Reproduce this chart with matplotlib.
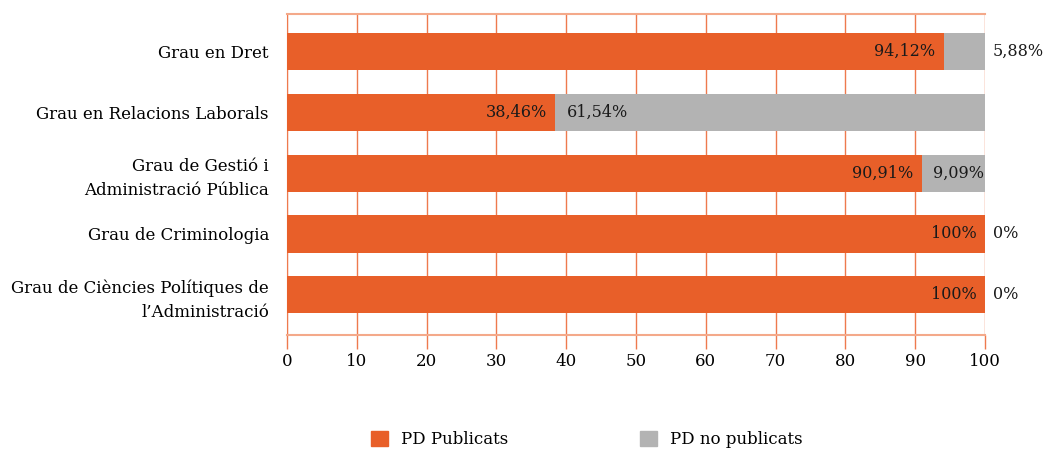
import matplotlib
matplotlib.use("Agg")
import matplotlib.pyplot as plt
from matplotlib.patches import Patch

categories = ["Grau en Dret", "Grau en Relacions Laborals",
              "Grau de Gestió i\nAdministració Pública", "Grau de Criminologia",
              "Grau de Ciències Polítiques de\nl’Administració"]
publicats = [94.12, 38.46, 90.91, 100, 100]
no_publicats = [5.88, 61.54, 9.09, 0, 0]

orange = "#E85F29"
grey = "#B3B3B3"
grid_c = "#EE7A4E"

plt.rcParams['font.family'] = ['DejaVu Serif']
plt.rcParams['font.size'] = 12

def fmt(v):
    s = ("%.2f" % v).replace(".", ",")
    if s.endswith(",00"):
        s = s[:-3]
    return s + "%"

fig = plt.figure(figsize=(10.43, 4.53), dpi=100)
ax = fig.add_axes([0.2752, 0.2605, 0.6692, 0.7085])

y = list(range(len(categories)))
ax.barh(y, publicats, height=0.61, color=orange, zorder=3)
ax.barh(y, no_publicats, left=publicats, height=0.61, color=grey, zorder=3)

for i in y:
    p, n = publicats[i], no_publicats[i]
    ax.text(p - 1.2, i, fmt(p), ha="right", va="center", color="#1a1a1a",
            fontsize=11.5, zorder=4)
    if n >= 7:
        ax.text(p + 1.6, i, fmt(n), ha="left", va="center", color="#1a1a1a",
                fontsize=11.5, zorder=4)
    else:
        ax.text(101.1, i, fmt(n), ha="left", va="center", color="#1a1a1a",
                fontsize=11.5, zorder=4)

ax.set_xlim(0, 100)
ax.set_ylim(4.66, -0.615)
ax.set_yticks(y)
ax.set_yticklabels(categories, ha="right", linespacing=1.5)
ax.set_xticks(range(0, 101, 10))
ax.tick_params(axis="y", length=0, pad=13)
ax.tick_params(axis="x", length=10, color=grid_c, width=1, pad=3)
ax.grid(axis="x", color=grid_c, linewidth=1, zorder=0)
for side in ["left", "right"]:
    ax.spines[side].set_color(grid_c)
ax.spines["right"].set_visible(False)
for side in ["top", "bottom"]:
    ax.spines[side].set_color("#F4A98A")
    ax.spines[side].set_linewidth(1.5)

handles = [Patch(color=orange, label="PD Publicats"),
           Patch(color=grey, label="PD no publicats")]
fig.legend(handles=handles, loc="center", bbox_to_anchor=(0.563, 0.03), ncol=2,
           frameon=False, columnspacing=7.9, handlelength=1.0, handleheight=1.0,
           handletextpad=0.8)

fig.savefig("out.png", dpi=100)
